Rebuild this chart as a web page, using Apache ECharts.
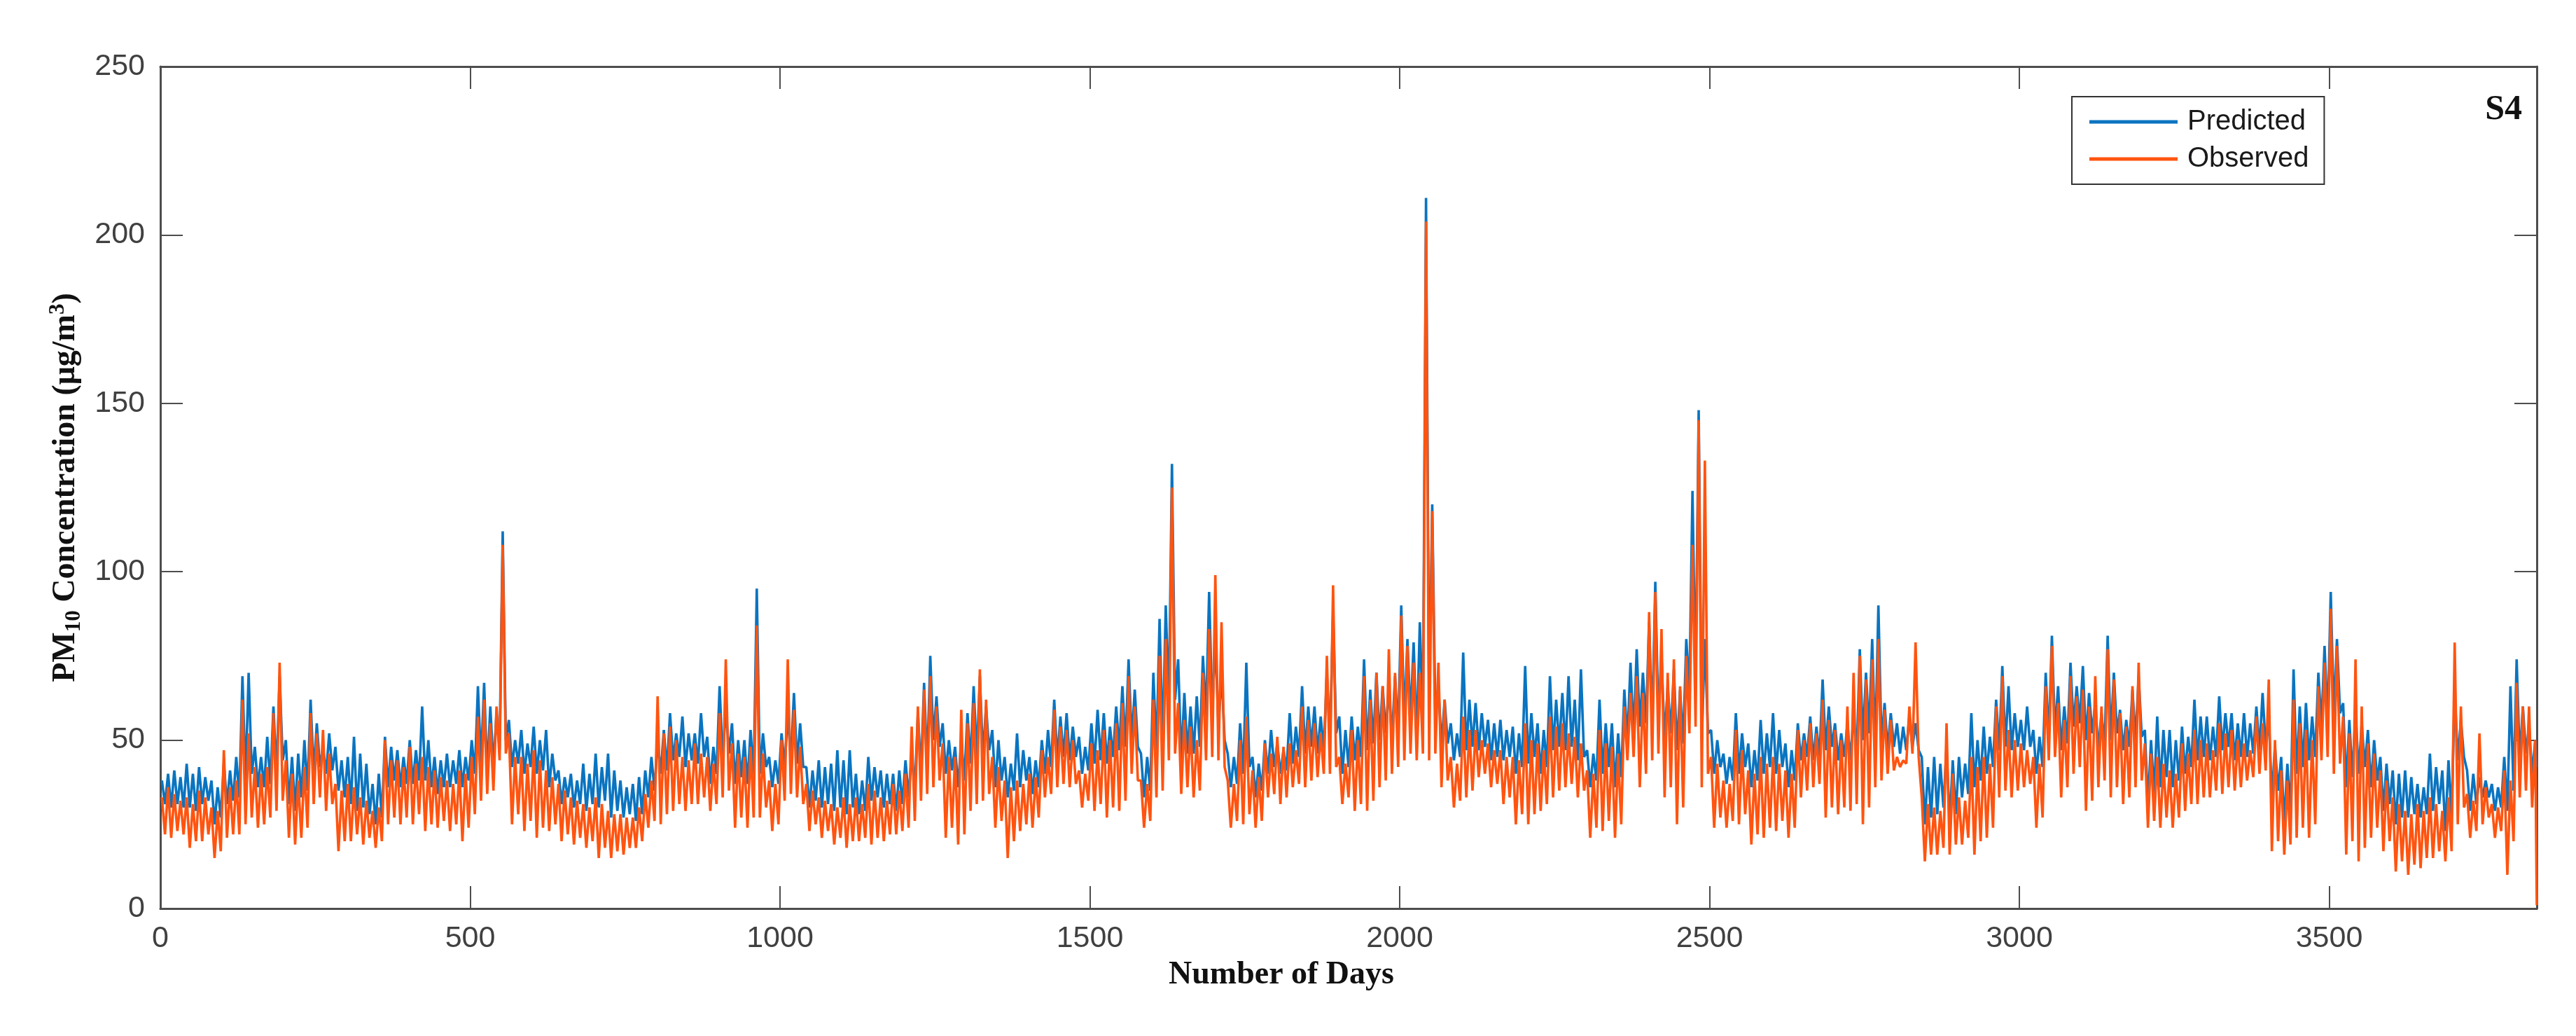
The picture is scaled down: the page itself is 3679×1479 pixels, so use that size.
<!DOCTYPE html>
<html>
<head>
<meta charset="utf-8">
<title>PM10 S4</title>
<script src="https://cdn.jsdelivr.net/npm/echarts@6/dist/echarts.min.js"></script>
<style>
  html, body { margin: 0; padding: 0; background: #fff; }
  #chart { width: 3679px; height: 1479px; }
</style>
</head>
<body>
<div id="chart"></div>
<script>
  // trace in 10-day steps: upper and lower edge of each line per step
  var stepDays = 10;
  var lastDay = 3835;
  var seriesNames = ['Predicted', 'Observed'];

  var predictedHigh = [
    38,40,41,39,43,40,42,39,38,36,43,41,45,69,70,48,45,51,60,69,
    50,45,46,50,62,55,48,52,48,44,45,51,46,43,37,40,51,48,47,45,
    50,47,60,50,45,44,46,44,47,45,50,66,67,60,58,112,56,50,53,49,
    54,50,53,46,41,39,40,38,43,40,46,42,46,41,38,36,37,39,41,45,
    50,53,58,52,57,52,52,58,51,48,66,60,55,50,50,53,95,52,45,44,
    52,58,64,55,42,41,44,42,43,47,44,47,40,38,45,42,41,40,40,41,
    44,46,58,67,75,63,55,50,48,50,58,66,69,60,53,50,45,43,52,47,
    45,44,50,53,62,57,58,54,51,48,55,59,58,54,60,66,74,65,46,45,
    70,86,90,132,74,64,60,63,75,94,80,70,46,45,55,73,45,43,50,53,
    49,47,58,54,66,60,60,57,70,88,57,53,57,54,74,65,70,66,66,69,
    90,80,79,85,211,120,66,62,55,52,76,62,61,58,56,55,56,53,54,52,
    72,58,55,53,69,62,64,69,62,71,47,46,62,55,55,52,65,73,77,70,
    85,97,75,66,71,65,80,124,148,80,53,50,46,45,58,52,49,47,56,52,
    58,53,49,47,55,52,57,54,68,60,55,52,55,58,77,70,80,90,61,58,
    55,54,57,55,45,42,45,43,48,44,45,43,58,50,54,51,62,72,66,58,
    56,60,53,51,70,81,66,60,73,66,72,64,61,58,81,70,59,56,65,69,
    53,50,57,53,53,50,54,51,62,57,57,54,63,58,58,55,58,55,60,64,
    57,48,45,43,71,60,61,57,70,78,94,80,61,56,59,55,53,50,45,43,
    41,40,41,39,37,36,46,42,41,44,65,56,41,40,39,38,37,36,45,66,
    74,60,54,50
  ];
  var predictedLow = [
    31,30,31,30,30,29,31,32,25,27,31,32,33,38,40,36,36,37,40,44,
    31,29,33,35,40,42,40,41,35,33,31,29,30,28,25,27,36,38,36,37,
    37,38,38,36,34,36,36,37,36,38,40,43,40,42,47,50,42,43,40,42,
    40,41,36,38,31,33,30,31,29,31,30,32,27,29,27,28,26,28,33,35,
    40,41,44,45,42,44,43,45,37,40,44,46,37,39,37,39,40,42,36,37,
    42,44,43,42,30,32,30,31,29,30,28,30,28,29,32,33,30,31,29,31,
    33,35,40,42,50,48,40,41,36,38,43,45,45,47,36,38,33,35,36,38,
    34,36,40,42,44,45,44,45,40,41,43,44,43,45,47,48,50,48,33,35,
    46,48,60,62,44,46,46,48,57,58,54,50,36,37,40,42,33,35,40,42,
    40,41,43,45,46,48,46,47,50,52,40,42,44,45,47,49,50,52,50,52,
    55,56,50,55,60,58,48,49,44,45,47,48,47,48,44,45,44,45,40,42,
    43,45,40,42,47,48,47,48,44,45,36,38,40,42,36,39,50,51,54,55,
    54,56,50,52,47,49,64,66,50,52,40,42,37,38,40,42,36,38,40,42,
    40,42,36,38,44,45,44,45,47,48,44,45,44,45,50,52,47,49,47,48,
    46,47,48,47,25,27,28,30,25,28,33,34,36,38,40,42,47,48,47,48,
    47,48,40,42,50,52,47,49,54,55,50,52,47,48,50,52,47,48,50,51,
    31,34,36,39,36,38,40,42,44,45,44,45,47,48,44,45,45,46,47,48,
    33,35,25,28,40,42,44,45,54,55,57,58,36,39,40,42,36,38,29,31,
    25,27,27,28,27,28,29,31,23,27,44,45,29,31,33,33,29,30,29,35,
    44,46,40,42
  ];
  var observedHigh = [
    33,36,34,32,33,31,35,33,30,29,47,36,38,62,52,42,40,42,58,73,
    44,40,38,42,58,52,53,46,37,35,37,36,33,32,29,30,50,44,44,42,
    48,43,45,42,41,39,38,37,41,40,45,57,62,55,60,108,52,45,45,43,
    47,44,41,39,37,35,33,32,31,30,33,31,29,28,28,27,27,30,34,38,
    63,52,54,50,45,44,49,46,45,43,58,74,49,46,45,48,84,46,38,37,
    50,74,59,48,37,35,33,32,31,30,33,31,33,31,37,35,33,32,37,35,
    40,54,60,65,69,60,49,45,45,59,55,61,71,62,45,42,38,36,38,37,
    40,39,47,45,59,54,53,50,41,40,49,47,53,50,55,61,69,60,38,37,
    62,75,80,125,61,56,54,50,70,83,99,85,38,37,50,57,41,39,49,46,
    51,48,49,47,60,56,55,52,75,96,45,43,53,50,69,62,70,66,77,70,
    87,78,73,70,204,118,73,62,45,43,57,53,53,50,49,47,47,45,45,44,
    55,50,49,47,57,54,55,52,51,49,41,40,53,49,48,46,60,64,69,64,
    88,94,83,70,74,66,75,108,145,133,45,43,38,37,53,47,41,40,45,43,
    45,43,41,40,53,50,55,52,62,56,53,50,60,70,75,68,74,80,59,56,
    45,44,60,79,33,31,30,29,55,40,33,32,45,42,45,43,60,69,53,50,
    49,47,45,43,66,78,61,56,69,63,65,60,69,60,77,68,58,54,66,73,
    49,46,45,43,41,40,49,46,53,50,49,47,55,52,53,50,49,47,57,55,
    68,50,41,38,62,55,53,50,66,73,89,78,57,52,74,60,49,46,41,38,
    33,31,29,28,31,29,33,31,29,33,79,60,34,32,52,36,31,30,41,38,
    67,60,60,50
  ];
  var observedLow = [
    22,21,23,22,18,20,20,22,15,17,21,22,22,25,27,24,25,27,29,32,
    21,19,21,24,31,33,29,31,17,20,20,22,19,21,18,20,25,27,25,27,
    25,28,23,25,24,26,23,25,20,24,28,32,34,35,44,46,25,28,23,26,
    21,24,23,25,20,22,19,21,18,20,15,18,15,17,16,18,18,20,24,26,
    25,28,29,31,29,31,31,33,29,31,33,35,24,27,24,27,27,30,23,25,
    32,34,33,31,23,25,21,23,19,21,18,20,20,21,19,21,20,22,22,23,
    24,26,32,34,36,38,21,24,19,22,29,31,32,34,24,26,15,20,23,25,
    24,27,33,34,36,37,36,37,30,32,29,31,27,30,29,32,40,38,24,26,
    33,35,44,46,34,36,33,35,44,45,44,42,24,26,25,28,24,26,33,34,
    31,33,36,37,36,38,39,40,40,42,31,33,29,31,29,32,36,38,40,42,
    44,46,44,46,44,46,36,38,30,32,33,35,39,40,36,37,31,33,25,28,
    25,28,29,31,33,35,36,37,33,35,21,24,23,26,21,25,44,45,36,40,
    44,46,33,36,25,30,52,54,36,40,24,27,24,26,25,28,19,22,21,24,
    23,26,21,24,33,35,36,37,27,30,28,30,29,31,25,30,36,38,40,41,
    42,43,46,45,14,16,16,18,16,19,19,21,16,20,21,24,33,35,33,35,
    36,37,24,27,44,45,33,36,40,42,29,32,36,38,33,36,31,33,36,38,
    24,26,24,27,24,27,29,31,31,33,33,35,34,36,35,36,38,39,40,41,
    17,20,16,19,21,24,21,25,44,45,40,43,16,20,14,18,21,24,17,20,
    11,14,10,13,12,15,15,17,14,17,25,30,21,23,25,27,21,23,10,20,
    33,35,30,1
  ];

  var blue = '#0a74c0';
  var orange = '#ff5410';
  var tickFont = "'Liberation Sans', Arial, sans-serif";
  var serifFont = "'Liberation Serif', 'Times New Roman', serif";
  var axisColor = '#4d4d4d';

  // each step gives a high and a low vertex, so the trace keeps its ragged look
  function zigzag(high, low) {
    var out = [];
    for (var i = 0; i < high.length; i++) {
      out.push([i * stepDays + 2.5, high[i]]);
      out.push([Math.min(i * stepDays + 7.5, lastDay), low[i]]);
    }
    return out;
  }

  function plain(v) { return String(v); }

  function boxAxis(base) {
    var ax = {
      type: 'value',
      axisLine: { show: true, onZero: false, lineStyle: { color: axisColor, width: 3 } },
      axisTick: { show: true, inside: true, length: 32, lineStyle: { color: axisColor, width: 2 } },
      axisLabel: { show: false },
      splitLine: { show: false }
    };
    for (var k in base) ax[k] = base[k];
    return ax;
  }

  var chart = echarts.init(document.getElementById('chart'));

  var option = {
    animation: false,
    backgroundColor: '#ffffff',
    grid: { left: 229, right: 56, top: 95, bottom: 182 },
    legend: {
      data: seriesNames,
      orient: 'vertical',
      left: 2959,
      top: 138,
      padding: [16, 22, 16, 25],
      itemGap: 13,
      itemWidth: 126,
      itemHeight: 5,
      icon: 'rect',
      selectedMode: false,
      borderColor: '#333',
      borderWidth: 2,
      backgroundColor: '#fff',
      textStyle: { fontFamily: tickFont, fontSize: 40, lineHeight: 40, color: '#1a1a1a', padding: [0, 0, 0, 9] }
    },
    graphic: [{
      type: 'text',
      right: 77,
      top: 132,
      style: { text: 'S4', font: 'bold 50px "Liberation Serif", serif', fill: '#111' }
    }],
    xAxis: [
      boxAxis({
        min: 0, max: lastDay, interval: 500, position: 'bottom',
        axisLabel: { show: true, margin: 22, fontSize: 43, color: '#404040', fontFamily: tickFont, showMaxLabel: false, formatter: plain },
        name: 'Number of Days',
        nameLocation: 'middle',
        nameGap: 72,
        nameTextStyle: { fontFamily: serifFont, fontWeight: 'bold', fontSize: 46, color: '#111', padding: [0, 192, 0, 0] }
      }),
      boxAxis({ min: 0, max: lastDay, interval: 500, position: 'top' })
    ],
    yAxis: [
      boxAxis({
        min: 0, max: 250, interval: 50, position: 'left',
        axisLabel: { show: true, margin: 22, fontSize: 43, color: '#404040', fontFamily: tickFont, formatter: plain },
        name: '{b|PM}{s|10}{b| Concentration (μg/m}{p|3}{b|)}',
        nameLocation: 'middle',
        nameGap: 108,
        nameRotate: 90,
        nameTextStyle: {
          fontFamily: serifFont, fontWeight: 'bold', color: '#111',
          rich: {
            b: { fontFamily: serifFont, fontWeight: 'bold', fontSize: 46, lineHeight: 54, color: '#111' },
            s: { fontFamily: serifFont, fontWeight: 'bold', fontSize: 31, lineHeight: 31, color: '#111', verticalAlign: 'bottom' },
            p: { fontFamily: serifFont, fontWeight: 'bold', fontSize: 31, lineHeight: 31, color: '#111', verticalAlign: 'top' }
          }
        }
      }),
      boxAxis({ min: 0, max: 250, interval: 50, position: 'right' })
    ],
    series: [
      {
        name: seriesNames[0],
        type: 'line',
        xAxisIndex: 0,
        yAxisIndex: 0,
        data: zigzag(predictedHigh, predictedLow),
        symbol: 'none',
        sampling: null,
        lineStyle: { color: blue, width: 3.6 },
        itemStyle: { color: blue }
      },
      {
        name: seriesNames[1],
        type: 'line',
        xAxisIndex: 0,
        yAxisIndex: 0,
        data: zigzag(observedHigh, observedLow),
        symbol: 'none',
        sampling: null,
        lineStyle: { color: orange, width: 3.6 },
        itemStyle: { color: orange }
      }
    ]
  };

  chart.setOption(option);
</script>
</body>
</html>
